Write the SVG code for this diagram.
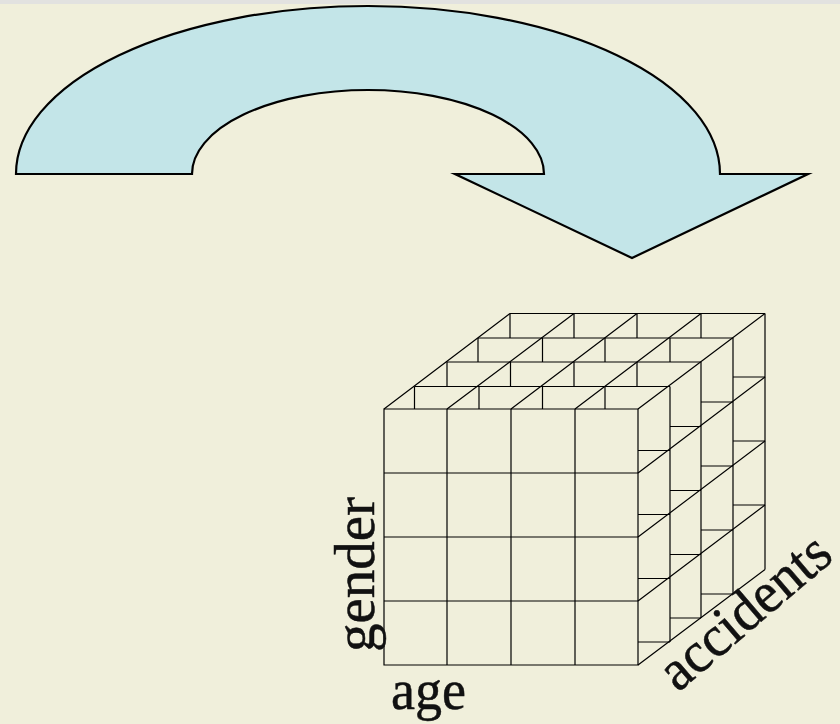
<svg xmlns="http://www.w3.org/2000/svg" width="840" height="724" viewBox="0 0 840 724">
<style>
.g{fill:none;stroke:#000;stroke-width:1.2}
.t{font-family:"Liberation Serif",serif;font-size:58px;fill:#111;stroke:#111;stroke-width:.5}
</style>
<rect width="840" height="724" fill="#f0efdb"/>
<rect width="840" height="4" fill="#e2e2e0"/>
<g id="arrow"><path d="M16 174A352 168 0 0 1 720 174H808L632 258L455 174H544A176 84 0 0 0 192 174Z" fill="#c3e5e8" stroke="#000" stroke-width="2.2" stroke-miterlimit="10"/></g>
<g id="cube" class="g">
<path d="M384 409H638V665H384ZM447 409V665M511 409V665M575 409V665M384 473H638M384 537H638M384 601H638"/>
<path d="M384 409L510 313.5M447 409L574 313.5M511 409L637 313.5M575 409L701 313.5M638 409L765 313.5"/>
<path d="M510 313.5H765M478 338H733M447 362H701M414.5 386.5H670"/>
<path d="M510 313.5V338M574 313.5V338M637 313.5V338M701 313.5V338M478 338V362M542.500 338V362M605 338V362M670 338V362M447 362V386.500M510.500 362V386.500M574 362V386.500M637 362V386.500M414.500 386.500V409M479 386.500V409M542.500 386.500V409M605 386.500V409"/>
<path d="M765 313.500V569.500M733 338V594M701 362V618M670 386.500V642"/>
<path d="M638 473L765 377M638 537L765 441M638 601L765 505M638 665L765 569.500"/>
<path d="M733 377H765M733 441H765M733 505H765M701 402H733M701 466H733M701 530H733M701 594H733M670 426.500H701M670 490.500H701M670 554.500H701M670 618H701M638 450.500H670M638 514.500H670M638 578.500H670M638 642H670"/>
</g>
<g id="labels">
<text class="t" x="391" y="709" textLength="75" lengthAdjust="spacingAndGlyphs">age</text>
<text class="t" transform="translate(374 652) rotate(-90)" textLength="155" lengthAdjust="spacingAndGlyphs">gender</text>
<text class="t" transform="translate(678 693) rotate(-40.500)" textLength="207" lengthAdjust="spacingAndGlyphs">accidents</text>
</g>
</svg>
